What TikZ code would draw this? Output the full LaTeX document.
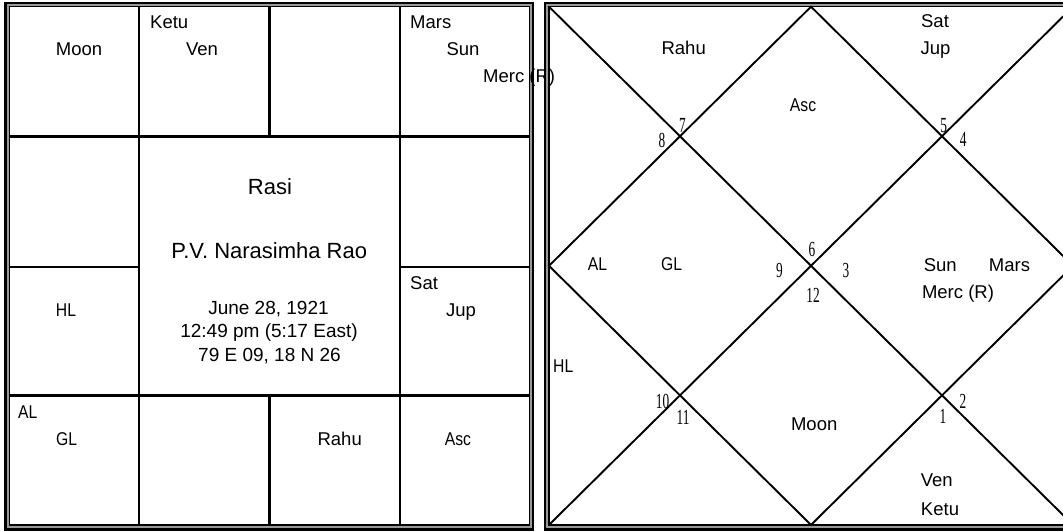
\documentclass[tikz,border=0pt]{standalone}
\usepackage{fontspec}
\usepackage{graphicx}
\setmainfont{Liberation Sans}
\newfontfamily\numfont{Liberation Serif}
\newcommand{\nar}[1]{\scalebox{0.85}[1]{#1}}
\newcommand{\nnum}[1]{\scalebox{0.62}[1]{#1}}
\tikzset{
  gridln/.style={line width=2.4pt},
  outerln/.style={line width=2.6pt},
  innerln/.style={line width=1.3pt},
  gapln/.style={line width=2.2pt, black!40},
  diagln/.style={line width=1.9pt},
  lbl/.style={inner sep=0pt, anchor=base, font=\fontsize{18.5}{20}\selectfont},
  lbll/.style={lbl, anchor=base west},
  numlbl/.style={inner sep=0pt, anchor=base, font=\numfont\fontsize{21.5}{23}\selectfont},
  biglbl/.style={inner sep=0pt, anchor=base, font=\fontsize{22}{24}\selectfont},
  infolbl/.style={inner sep=0pt, anchor=base, font=\fontsize{19}{21}\selectfont},
}
\begin{document}
\begin{tikzpicture}[x=1pt,y=-1pt]
\useasboundingbox (0,0) rectangle (1063,532);
\clip (0,0) rectangle (1063,532);
\fill[white] (0,0) rectangle (1063,532);

% ---------- Left (South Indian) chart ----------
\draw[outerln] (5.3,3) rectangle (532.5,529.2);
\draw[gapln] (7.8,5) rectangle (530.6,527);
\draw[innerln] (9.7,6.7) rectangle (529.2,524.9);

\coordinate (LT1) at (9.7,136.7);  \coordinate (RT1) at (529.2,136.7);
\coordinate (LT3) at (9.7,395.5);  \coordinate (RT3) at (529.2,395.5);
\coordinate (V1t) at (139,6.7);    \coordinate (V1b) at (139,524.9);
\coordinate (V3t) at (399.7,6.7);  \coordinate (V3b) at (399.7,524.9);
\coordinate (V2t) at (269.5,6.7);  \coordinate (V2m) at (269.5,136.7);
\coordinate (V2n) at (269.5,395.5); \coordinate (V2b) at (269.5,524.9);
\coordinate (H2a) at (9.7,267);    \coordinate (H2b) at (139,267);
\coordinate (H2c) at (399.7,267);  \coordinate (H2d) at (529.2,267);

\draw[gridln] (LT1) -- (RT1);
\draw[gridln] (LT3) -- (RT3);
\draw[gridln] (V1t) -- (V1b);
\draw[gridln] (V3t) -- (V3b);
\draw[gridln] (V2t) -- (V2m);
\draw[gridln] (V2n) -- (V2b);
\draw[gridln] (H2a) -- (H2b);
\draw[gridln] (H2c) -- (H2d);

\node[lbl]  (sMoon) at (79,55.7) {Moon};
\node[lbll] (sKetu) at (150,29) {Ketu};
\node[lbl]  (sVen)  at (202,55.7) {Ven};
\node[lbll] (sMars) at (410,29) {Mars};
\node[lbl]  (sSun)  at (463,55.7) {Sun};
\node[lbll] (sMerc) at (483,82.3) {Merc (R)};
\node[lbl]  (sHL)   at (66,316) {\nar{HL}};
\node[lbll] (sSat)  at (410,289) {Sat};
\node[lbl]  (sJup)  at (461,316) {Jup};
\node[lbll] (sAL)   at (18,418.3) {\nar{AL}};
\node[lbll] (sGL)   at (56,445.7) {\nar{GL}};
\node[lbl]  (sRahu) at (339.7,445.7) {Rahu};
\node[lbl]  (sAsc)  at (458,445.7) {\nar{Asc}};

\node[biglbl]  (title) at (270,194.3) {Rasi};
\node[biglbl]  (name)  at (269.3,258.3) {P.V. Narasimha Rao};
\node[infolbl] (date)  at (268.5,314.3) {June 28, 1921};
\node[infolbl] (time)  at (269,337.7) {12:49 pm (5:17 East)};
\node[infolbl] (place) at (269.5,361) {79 E 09, 18 N 26};

% ---------- Right (North Indian) chart ----------
\draw[outerln] (545.3,3) rectangle (1077,529.2);
\draw[gapln] (547.2,5) rectangle (1075,527);
\draw[innerln] (549,6.7) rectangle (1073,524.9);

\coordinate (NW) at (549,6.7);
\coordinate (NE) at (1073,6.7);
\coordinate (SE) at (1073,524.9);
\coordinate (SW) at (549,524.9);
\coordinate (Nm) at (811,6.7);
\coordinate (Em) at (1073,265.8);
\coordinate (Sm) at (811,524.9);
\coordinate (Wm) at (549,265.8);

\draw[diagln] (NW) -- (SE);
\draw[diagln] (NE) -- (SW);
\draw[diagln] (Nm) -- (Em) -- (Sm) -- (Wm) -- cycle;

\node[lbl]  (nRahu) at (683.7,55) {Rahu};
\node[lbl]  (nSat)  at (935,27.3) {Sat};
\node[lbl]  (nJup)  at (935.5,55) {Jup};
\node[lbl]  (nAsc)  at (803,111.7) {\nar{Asc}};
\node[lbl]  (nAL)   at (597.5,270.7) {\nar{AL}};
\node[lbl]  (nGL)   at (671.7,270.7) {\nar{GL}};
\node[lbll] (nHL)   at (553,372.7) {\nar{HL}};
\node[lbl]  (nSun)  at (940.3,271.7) {Sun};
\node[lbl]  (nMars) at (1009.5,271.7) {Mars};
\node[lbl]  (nMerc) at (958,298.5) {Merc (R)};
\node[lbl]  (nMoon) at (814.2,430) {Moon};
\node[lbl]  (nVen)  at (936.7,486.7) {Ven};
\node[lbl]  (nKetu) at (940,515) {Ketu};

\node[numlbl] (h8)  at (662,147) {\nnum{8}};
\node[numlbl] (h7)  at (682.5,133) {\nnum{7}};
\node[numlbl] (h5)  at (943.7,133) {\nnum{5}};
\node[numlbl] (h4)  at (963.3,146.7) {\nnum{4}};
\node[numlbl] (h9)  at (779.5,277) {\nnum{9}};
\node[numlbl] (h6)  at (812,256) {\nnum{6}};
\node[numlbl] (h3)  at (846,277) {\nnum{3}};
\node[numlbl] (h12) at (813,302.7) {\nnum{12}};
\node[numlbl] (h10) at (662.5,408) {\nnum{10}};
\node[numlbl] (h11) at (683,424) {\nnum{11}};
\node[numlbl] (h1)  at (943,423) {\nnum{1}};
\node[numlbl] (h2)  at (963,408) {\nnum{2}};
\end{tikzpicture}
\end{document}
